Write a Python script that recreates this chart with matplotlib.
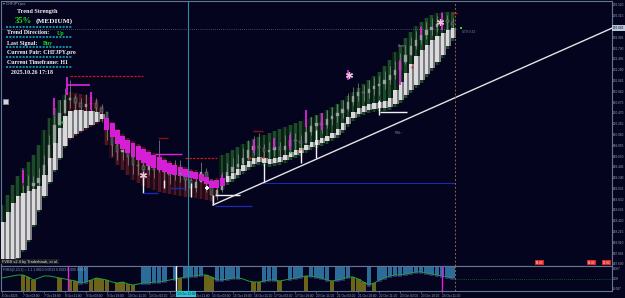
import matplotlib
matplotlib.use("Agg")
import matplotlib.pyplot as plt
from matplotlib.lines import Line2D
from matplotlib.patches import Rectangle

plt.rcParams["font.family"] = ["Liberation Sans", "DejaVu Sans"]

# ---------------- data (CHFJPY.pro, H1, shown as 4-hour steps) ----------------
close = [188.06,188.25,188.47,188.72,188.91,189.08,189.14,189.23,189.48,189.86,
         190.24,190.47,190.72,190.75,190.66,190.58,190.64,190.66,190.56,190.49,
         190.18,189.86,189.73,189.77,189.63,189.48,189.46,189.39,189.46,189.39,
         189.52,189.35,189.29,189.39,189.31,189.20,189.04,189.16,189.35,189.20,
         188.91,189.01,189.20,189.35,189.44,189.50,189.61,189.77,189.84,189.80,
         189.73,189.77,189.82,189.77,189.84,189.96,189.94,189.90,190.11,190.22,
         190.28,190.24,190.35,190.41,190.47,190.54,190.68,190.79,190.87,190.85,
         190.92,190.98,191.02,191.10,191.19,191.29,191.44,191.57,191.74,191.86,
         191.95,192.05,192.10,192.16,192.24,192.20,192.14]
high = [188.21,188.40,188.63,188.89,189.10,189.29,189.27,189.42,189.67,190.05,
        190.43,190.72,190.94,191.10,190.81,190.75,190.83,190.81,190.75,190.64,
        190.43,190.15,189.92,189.96,189.80,189.67,189.61,189.58,189.67,189.58,
        189.96,189.54,189.48,189.58,189.58,189.39,189.23,189.35,189.54,189.42,
        189.10,189.20,189.35,189.52,189.61,189.69,189.80,189.96,190.03,190.09,
        189.88,189.92,189.99,189.92,190.05,190.11,190.09,190.05,190.26,190.39,
        190.43,190.41,190.53,190.58,190.64,190.72,190.85,190.96,191.04,191.00,
        191.10,191.15,191.17,191.27,191.36,191.46,191.61,191.76,191.91,192.03,
        192.12,192.20,192.27,192.31,192.37,192.33,192.27]
low = [187.87,188.02,188.28,188.55,188.74,188.89,188.97,189.04,189.27,189.61,
       190.05,190.30,190.49,190.56,190.49,190.41,190.45,190.49,190.41,190.30,
       189.96,189.65,189.58,189.58,189.48,189.31,189.29,189.20,189.29,189.23,
       189.35,189.20,189.12,189.20,189.16,189.01,188.87,188.97,189.16,188.97,
       188.76,188.82,188.97,189.16,189.27,189.35,189.46,189.58,189.67,189.61,
       189.58,189.58,189.65,189.61,189.67,189.77,189.77,189.73,189.92,190.05,
       190.09,190.09,190.18,190.24,190.30,190.37,190.51,190.62,190.70,190.70,
       190.75,190.81,190.81,190.92,191.02,191.11,191.27,191.40,191.57,191.68,
       191.78,191.87,191.95,192.01,192.08,192.05,192.01]
band_top = [188.72,188.91,189.10,189.27,189.42,189.54,189.67,189.86,190.15,190.37,
            190.56,190.72,190.81,190.87,190.85,190.83,190.81,190.77,190.72,190.60,
            190.41,190.30,190.16,190.07,189.99,189.94,189.88,189.82,189.77,189.71,
            189.67,189.61,189.56,189.52,189.48,189.44,189.40,189.39,189.35,189.29,
            189.21,189.23,189.67,189.71,189.77,189.82,189.88,189.94,189.97,190.01,
            190.05,190.09,190.13,190.16,190.20,190.24,190.28,190.32,190.35,190.39,
            190.43,190.47,190.53,190.58,190.64,190.72,190.79,190.87,190.94,191.02,
            191.10,191.17,191.25,191.36,191.48,191.63,191.76,191.89,192.01,192.12,
            192.20,192.27,192.33,192.37,192.39,192.39,192.39]
band_bot = [187.64,187.64,187.64,187.68,187.83,188.02,188.30,188.59,188.85,189.12,
            189.35,189.58,189.80,189.96,190.03,190.09,190.15,190.20,190.26,190.32,
            189.86,189.61,189.48,189.39,189.29,189.20,189.14,189.08,189.04,189.01,
            188.97,188.95,188.93,188.91,188.89,188.87,188.87,188.85,188.83,188.82,
            188.80,188.85,189.01,189.10,189.16,189.23,189.31,189.39,189.44,189.48,
            189.46,189.44,189.46,189.48,189.52,189.58,189.61,189.65,189.71,189.77,
            189.80,189.84,189.88,189.94,189.99,190.09,190.20,190.32,190.39,190.43,
            190.47,190.49,190.51,190.51,190.53,190.58,190.66,190.75,190.85,190.94,
            191.04,191.15,191.27,191.38,191.51,191.68,191.83]
rib_top = [188.40,188.59,188.76,188.89,188.95,188.99,189.02,189.08,189.29,189.61,
           189.90,190.18,190.41,190.51,190.53,190.53,190.51,190.51,190.49,190.45,
           190.37,190.28,190.15,190.03,189.96,189.90,189.84,189.78,189.73,189.67,
           189.63,189.58,189.52,189.48,189.44,189.40,189.37,189.35,189.31,189.25,
           189.18,189.20,189.23,189.27,189.33,189.40,189.48,189.56,189.61,189.63,
           189.61,189.59,189.61,189.63,189.67,189.73,189.77,189.80,189.86,189.92,
           189.96,189.99,190.03,190.09,190.16,190.28,190.39,190.49,190.56,190.60,
           190.64,190.66,190.68,190.70,190.75,190.91,191.06,191.23,191.40,191.55,
           191.67,191.76,191.86,191.93,191.99,192.05,192.08]
rib_bot = [187.68,187.68,187.68,187.71,187.87,188.06,188.34,188.63,188.89,189.16,
           189.39,189.61,189.84,189.99,190.07,190.13,190.18,190.24,190.30,190.35,
           190.15,190.01,189.88,189.78,189.71,189.63,189.58,189.52,189.46,189.42,
           189.39,189.35,189.31,189.29,189.27,189.25,189.23,189.21,189.18,189.12,
           189.04,189.04,189.08,189.16,189.21,189.29,189.37,189.44,189.50,189.54,
           189.52,189.50,189.52,189.54,189.58,189.63,189.67,189.71,189.77,189.82,
           189.86,189.90,189.94,189.99,190.05,190.15,190.26,190.37,190.45,190.49,
           190.53,190.54,190.56,190.56,190.58,190.64,190.72,190.81,190.91,191.00,
           191.10,191.21,191.32,191.44,191.57,191.74,191.89]
bear_band = (13, 41)      # first/last bar with the red channel
bear_ribbon = (20, 42)    # first/last bar with the magenta ribbon

price_ticks = [192.520,192.315,191.905,191.700,191.495,191.290,191.085,190.880,
               190.675,190.470,190.265,190.060,189.855,189.650,189.445,189.240,
               189.035,188.830,188.625,188.420,188.215,188.010,187.805,187.600]
bid_price = 192.064
time_labels = ["6 Oct 2025","7 Oct 03:00","7 Oct 19:00","8 Oct 11:00","9 Oct 03:00",
               "9 Oct 19:00","10 Oct 11:00","13 Oct 03:00","13 Oct 19:00","14 Oct 11:00",
               "15 Oct 03:00","15 Oct 19:00","16 Oct 11:00","17 Oct 03:00","17 Oct 19:00",
               "20 Oct 11:00","21 Oct 03:00","21 Oct 19:00","22 Oct 11:00","23 Oct 03:00",
               "23 Oct 19:00","24 Oct 11:00"]
time_label_bars = [0,4,8,12,16,20,24,28,32,36,40,44,48,52,56,60,64,68,72,76,80,84]

osc_line = [0.0007,0.0014,0.0021,0.0028,0.0028,0.0014,-0.0007,0.0007,0.0021,0.0021,
            0.0014,0.0007,0.0,-0.0007,-0.0014,-0.0028,-0.0021,-0.0007,0.0007,0.0,
            -0.0007,-0.0021,-0.0028,-0.0021,-0.0035,-0.0042,-0.0035,-0.0028,-0.0028,-0.0021,
            -0.0021,-0.0014,-0.0007,0.0,0.0007,0.0014,0.0021,0.0021,0.0028,0.0028,
            0.0014,-0.0007,-0.0007,0.0,0.0007,0.0007,0.0,-0.0014,-0.0021,-0.0021,
            -0.0014,-0.0007,-0.0007,-0.0014,-0.0007,0.0,0.0007,0.0014,0.0021,0.0021,
            0.0014,0.0007,-0.0007,-0.0014,-0.0007,0.0,0.0014,0.0014,0.0,-0.0021,
            -0.0042,-0.0028,-0.0007,0.0007,0.0021,0.0028,0.0028,0.0035,0.0042,0.0049,
            0.0049,0.0042,0.0035,0.0028,0.0021,0.0014,0.0007]
osc_state = ("....ddd..." ".d.dduuddd" "d.dddd.uuu" "uu.uduuuud" "duuuuu..dd"
             "uuud.uuudu" "uuuduuuddd" "uduuuuuuuu" "uuuuuuu")
osc_ticks = [0.007, 0.0, -0.007]
osc_tick_labels = ["0.007", "0.00", "-0.007"]

# signal objects of the indicators (bar, top price, bottom price)
magenta_spikes = [(4,189.39,189.14),(10,190.75,190.43),(12.4,191.15,190.81),(17,190.87,190.53),
                  (42,189.29,189.16),(48,189.96,189.71),(52,189.99,189.80),(55,190.05,189.77),
                  (58,190.53,190.20),(61,190.47,190.15),(66,191.29,191.10),(76,191.48,191.00),
                  (80,192.10,191.95),(84,192.37,192.05)]
white_spikes = [(27,189.29,188.95),(31,189.20,189.04),(36,189.14,188.87),(40.3,188.91,188.72),
                (50,189.52,189.14),(57,189.77,189.52),(60,190.15,189.61),(72,190.72,190.43)]
level_lines = [(13.0,26.9,191.17,"#c81818",(0,(2,1)),0.9),
               (12.4,16.8,191.00,"#e020e0","-",1.2),
               (29.8,31.7,189.99,"#8a1010","-",1.0),
               (29.2,34.4,189.69,"#e020e0","-",1.0),
               (34.9,41.0,189.61,"#c81818",(0,(2,1)),0.9),
               (26.9,29.8,188.95,"#1a2ab0","-",1.0),
               (32.1,34.9,189.04,"#1a2ab0","-",1.0),
               (40.6,45.4,188.91,"#f0f0f0","-",1.0),
               (40.6,47.7,188.70,"#1a2ab0","-",0.9),
               (49.8,86.5,189.14,"#1a2ab0","-",0.8),
               (47.9,49.8,190.13,"#8a1010","-",1.0),
               (72.1,77.3,190.49,"#f0f0f0","-",1.0),
               (85.9,86.8,192.37,"#c81818","-",1.0)]
stars = [(27,189.29),(66.2,191.19),(83.6,192.20)]
crosses = [(39.1,189.05)]
dots = [(49.8,189.63,"#e02020"),(56.9,189.78,"#f0a020"),(55,189.73,"#20c040"),
        (47.3,189.61,"#e02020"),(11.5,190.30,"#20c040"),(78.3,191.35,"#e02020"),
        (33.9,189.32,"#20c040")]
trend_x = [40.27, 116.41]
trend_y = [188.72, 192.08]
cross_bar = 35.5
last_bar_line = 86.45

# ---------------- style ----------------
BG = "#04041f"
GRN_BASE, GRN_STRIPE = "#0a1d14", "#1d4a2c"
RED_BASE, RED_STRIPE = "#1f0a16", "#4c1626"
RIB_UP, RIB_DN = "#dadada", "#d61ed6"
AXC, LBL = "#66768e", "#97a3ba"
TICK_FS = 2.25

W, H = 625.0, 298.0
def fx(px): return px / W
def fy(py): return 1 - py / H

fig = plt.figure(figsize=(W / 100, H / 100), dpi=100)
fig.patch.set_facecolor(BG)
RIGHT = 611.5
ax = fig.add_axes([fx(1), fy(266), fx(RIGHT) - fx(1), fy(1) - fy(266)])
ax2 = fig.add_axes([fx(1), fy(291), fx(RIGHT) - fx(1), fy(266) - fy(291)])
XMAX = (RIGHT - 2) / 5.24
for a in (ax, ax2):
    a.set_facecolor(BG)
    a.set_xlim(-0.19, XMAX)
    for s in a.spines.values():
        s.set_color(AXC)
        s.set_linewidth(0.8)
ax.set_ylim(187.56, 192.596)
ax2.set_ylim(-0.0084, 0.0091)

n = len(close)
idx = list(range(n))
band_red = [bear_band[0] <= i <= bear_band[1] for i in idx]
rib_mag = [bear_ribbon[0] <= i <= bear_ribbon[1] for i in idx]

# channel
hts = [t - b for t, b in zip(band_top, band_bot)]
ax.bar(idx, hts, bottom=band_bot, width=1.0, linewidth=0, zorder=1,
       color=[RED_BASE if r else GRN_BASE for r in band_red])
ax.bar(idx, hts, bottom=band_bot, width=0.5, linewidth=0, zorder=2,
       color=[RED_STRIPE if r else GRN_STRIPE for r in band_red])

# candles
for i in idx:
    o = close[i - 1] if i > 0 else close[i]
    c = close[i]
    ax.vlines(i, min(low[i], o, c), max(high[i], o, c), color="#86908c", lw=0.5, zorder=3)
    bull = c >= o
    ax.bar(i, max(abs(c - o), 0.01), bottom=min(o, c), width=0.45, zorder=3,
           facecolor="#9aa6a0" if bull else "#3a4440", edgecolor="#86908c", linewidth=0.3)

# ribbon
rh = [t - b for t, b in zip(rib_top, rib_bot)]
for i in idx:
    if rib_mag[i]:
        ax.bar(i, rh[i], bottom=rib_bot[i], width=0.95, color=RIB_DN, linewidth=0, zorder=4)
    else:
        ax.bar(i, rh[i], bottom=rib_bot[i], width=0.62, color=RIB_UP, linewidth=0, zorder=4)
        ax.bar(i + 0.5, rh[i], bottom=rib_bot[i], width=0.38, color="#7c7c84", linewidth=0,
               zorder=4)

# signals
for b, t, btm in magenta_spikes:
    ax.vlines(b, btm, t, color="#e020e0", lw=1.3, zorder=5)
for b, t, btm in white_spikes:
    ax.vlines(b, btm, t, color="#f2f2f2", lw=1.0, zorder=5)
for x0, x1, p, col, ls, lw in level_lines:
    ax.hlines(p, x0, x1, color=col, linestyle=ls, lw=lw, zorder=5)
for b, p in stars:
    ax.plot(b, p, marker=(6, 2, 0), ms=5, mew=0.9, color="#e6c6d6", zorder=6)
for b, p in crosses:
    ax.plot(b, p, marker="+", ms=3.5, mew=1.4, color="#f4f4f4", zorder=6)
for b, p, col in dots:
    ax.plot(b, p, marker="o", ms=1.6, color=col, mew=0, zorder=6)

ax.plot(trend_x, trend_y, color="#e4e4e4", lw=1.0, zorder=7)
ax.hlines(bid_price, 0, last_bar_line + 0.3, color="#7d8aa0", lw=0.5,
          linestyle=(0, (1, 2)), zorder=5)
ax.plot(last_bar_line + 1.2, bid_price + 0.02, marker="s", ms=1.8, color="#20e020", mew=0)
for a in (ax, ax2):
    a.axvline(cross_bar, color="#2a8d9d", lw=0.8, zorder=8)
    a.axvline(last_bar_line, color="#8a6a3a", lw=0.7, linestyle=(0, (2, 2)), zorder=8)

# axes ticks
ax.yaxis.tick_right()
ax.set_yticks(price_ticks)
ax.set_yticklabels([f"{v:.3f}" for v in price_ticks])
ax.tick_params(axis="y", length=0.8, width=0.5, pad=0.3, color=AXC, labelcolor=LBL,
               labelsize=TICK_FS)
ax.set_xticks([])

# oscillator sub-window
for i in idx:
    v = osc_line[i]
    st = osc_state[i]
    if st == "u":
        ax2.bar(i, 0.0091 - v, bottom=v, width=0.85, color="#2b6c9a", linewidth=0, zorder=2)
        ax2.bar(i, 0.0012, bottom=v - 0.0012, width=0.85, color="#34207c", linewidth=0, zorder=2)
    elif st == "d":
        ax2.bar(i, v + 0.0084, bottom=-0.0084, width=0.85, color="#6c6418", linewidth=0, zorder=2)
ax2.plot(idx, osc_line, color="#1fa23c", lw=0.7, zorder=3)
ax2.hlines(0, last_bar_line, XMAX, color="#1c6a30", lw=0.6, linestyle=(0, (1, 1.5)))
for b, col in [(12.6, "#e020e0"), (84, "#e020e0"), (33.2, "#f0f0f0")]:
    ax2.axvline(b, color=col, lw=1.0, zorder=4)
ax2.yaxis.tick_right()
ax2.set_yticks(osc_ticks)
ax2.set_yticklabels(osc_tick_labels)
ax2.tick_params(axis="y", length=0.8, width=0.5, pad=0.3, color=AXC, labelcolor=LBL,
                labelsize=TICK_FS)
ax2.set_xticks(time_label_bars)
ax2.set_xticklabels(time_labels)
for t in ax2.get_xticklabels():
    t.set_ha("left")
ax2.tick_params(axis="x", length=1.5, width=0.5, pad=0.8, color=AXC, labelcolor=LBL,
                labelsize=2.3)

# ---------------- texts ----------------
def ftxt(px, py, s, **kw):
    kw.setdefault("va", "center")
    kw.setdefault("ha", "left")
    return fig.text(fx(px), fy(py), s, **kw)

SERIF = ["Liberation Serif", "DejaVu Serif"]
ftxt(3, 3.5, "\u25be CHFJPY.pro", color="#a4a8bc", fontsize=2.6)
ftxt(17, 12, "Trend Strength", color="#f2f2f2", fontsize=4.4, weight="bold", family=SERIF)
ftxt(15, 21, "35%", color="#10e010", fontsize=6.2, weight="bold", family=SERIF)
ftxt(36, 21, "(MEDIUM)", color="#f2f2f2", fontsize=5.2, weight="bold", family=SERIF)
rows = [(33, [("Trend Direction:", 7, "#f2f2f2"), ("Up", 57, "#10e010")]),
        (43, [("Last Signal:", 7, "#f2f2f2"), ("Buy", 43, "#10e010")]),
        (52.5, [("Current Pair: CHFJPY.pro", 7, "#f2f2f2")]),
        (62.5, [("Current Timeframe: H1", 7, "#f2f2f2")])]
for yy, parts in rows:
    for s, xx, col in parts:
        ftxt(xx, yy, s, color=col, fontsize=4.2, weight="bold", family=SERIF)
ftxt(11, 72.5, "2025.10.26 17:18", color="#f2f2f2", fontsize=4.2, weight="bold", family=SERIF)
for yy in (27, 37, 47, 57, 67):
    fig.add_artist(Line2D([fx(6), fx(72)], [fy(yy), fy(yy)], color="#16a6b8", lw=1.2,
                          linestyle=(0, (1.2, 0.8))))
fig.add_artist(Rectangle((fx(3), fy(104)), 5 / W, 5 / H, facecolor="#d4d4dc",
                         edgecolor="#8a8a96", lw=0.5, transform=fig.transFigure))

ftxt(398, 46, "Bears", color="#7a8290", fontsize=2.4)
ftxt(395, 133, "FWL~", color="#7a8290", fontsize=2.4)
ftxt(462, 32, "0.79:0:32", color="#7a8496", fontsize=2.4)

ftxt(2, 261.5, "FVBS v2.4 by Traderhawk, et al.", color="#e4e4e4", fontsize=2.8,
     bbox=dict(facecolor="#1c1c22", edgecolor="none", pad=0.6))
ftxt(3, 269.5, "FVBS(2,20,2) = 1.1 1.0813 0.0013 0.0023 0.000 0.000", color="#8aa0c4",
     fontsize=2.4)

ftxt(612.6, 28, "192.082", color="#05051a", fontsize=TICK_FS,
     bbox=dict(facecolor="#b8c8da", edgecolor="none", pad=0.4))
for xx, s in [(536, "18:00"), (588, "06:00"), (603, "13:00")]:
    ftxt(xx, 262.5, s, color="#ffffff", fontsize=2.2,
         bbox=dict(facecolor="#e02424", edgecolor="none", pad=0.4))
ftxt(177, 294, "13 Oct 12:00", color="#04202a", fontsize=2.3,
     bbox=dict(facecolor="#30c8d8", edgecolor="none", pad=0.5))

fig.savefig("out.png", dpi=100, facecolor=BG)
